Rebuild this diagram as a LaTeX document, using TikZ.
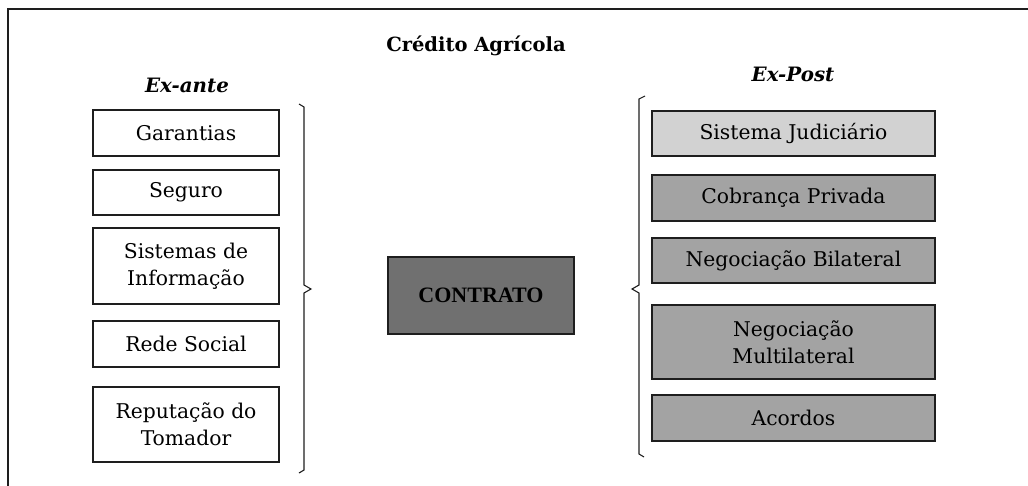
\documentclass[tikz,border=0pt]{standalone}
\usepackage{fontspec}
\setmainfont{DejaVu Serif}
\newfontfamily\contractfont{Liberation Serif}
\definecolor{lightbox}{HTML}{D2D2D2}
\definecolor{midbox}{HTML}{A3A3A3}
\definecolor{darkbox}{HTML}{707070}
\definecolor{edge}{HTML}{1E1E1E}
\begin{document}
\begin{tikzpicture}[x=1pt,y=-1pt,
  itembox/.style={draw=edge,line width=1.1pt,minimum width=186pt,inner sep=0pt,align=center,font=\fontsize{20.3}{27}\selectfont},
  postbox/.style={itembox,minimum width=283pt},
  bracepath/.style={draw=edge,line width=1.1pt,line join=miter},
  headtext/.style={font=\fontsize{19.8}{23}\selectfont\bfseries\itshape,anchor=base}]
\useasboundingbox (0,0) rectangle (1028,485);
\draw[edge,line width=1.3pt] (8,9) rectangle (1040,500);
\node[font=\fontsize{19.5}{23}\selectfont\bfseries,anchor=base] (title) at (476,51) {Crédito Agrícola};
\node[headtext] (exante) at (187,92) {Ex-ante};
\node[headtext] (expost) at (793,81) {Ex-Post};
% ex-ante boxes
\node[itembox,minimum height=46pt] (gar) at (186,133) {Garantias};
\node[itembox,minimum height=45pt] (seg) at (186,192.5) {Seguro};
\node[itembox,minimum height=76pt] (sis) at (186,266) {Sistemas de\\Informação};
\node[itembox,minimum height=46pt] (rede) at (186,344) {Rede Social};
\node[itembox,minimum height=75pt] (rep) at (186,424.5) {Reputação do\\Tomador};
% contract
\node[draw=edge,line width=1.1pt,fill=darkbox,minimum width=186pt,minimum height=77pt,inner sep=0pt,font=\contractfont\fontsize{22}{26}\selectfont\bfseries] (contrato) at (481,295.5) {CONTRATO};
% ex-post boxes
\node[postbox,fill=lightbox,minimum height=45pt] (sj) at (793.5,133.5) {Sistema Judiciário};
\node[postbox,fill=midbox,minimum height=46pt] (cp) at (793.5,198) {Cobrança Privada};
\node[postbox,fill=midbox,minimum height=45pt] (nb) at (793.5,260.5) {Negociação Bilateral};
\node[postbox,fill=midbox,minimum height=74pt] (nm) at (793.5,342) {Negociação\\Multilateral};
\node[postbox,fill=midbox,minimum height=46pt] (ac) at (793.5,418) {Acordos};
% braces
\draw[bracepath] (299,104) -- (304,107) -- (304,285) -- (311,289) -- (304,293) -- (304,470) -- (299,473);
\draw[bracepath] (645,96) -- (639,99) -- (639,285) -- (632,289) -- (639,293) -- (639,454) -- (644,457);
\end{tikzpicture}
\end{document}
